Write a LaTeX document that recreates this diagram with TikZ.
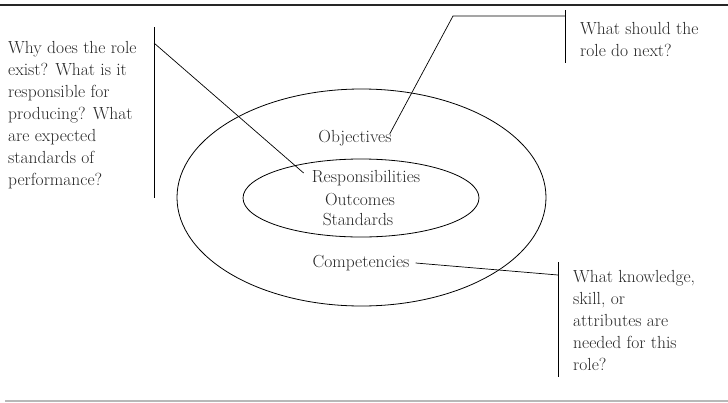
\documentclass[tikz,border=0pt]{standalone}
\usetikzlibrary{shapes.geometric}
\begin{document}
\begin{tikzpicture}[x=1pt,y=-1pt,
  ring/.style={draw,ellipse,line width=0.8pt,inner sep=0pt},
  word/.style={inner sep=0pt,text=black!85,font=\fontsize{17.5}{22}\selectfont},
  note/.style={inner sep=0pt,anchor=west,align=left,text=black!85,font=\fontsize{17.5}{22}\selectfont},
  wire/.style={line width=0.7pt},
  bar/.style={line width=0.9pt}]
\useasboundingbox (0,0) rectangle (728,402);
% page rules
\draw[line width=1.6pt,black!85] (0,5) -- (728,5);
\draw[line width=1.3pt,black!28] (5,401) -- (728,401);
% the two rings
\node[ring,minimum width=369,minimum height=217] (outer) at (361.5,197.5) {};
\node[ring,minimum width=236,minimum height=78] (inner) at (361,198) {};
% ring labels
\node[word] (obj) at (355,138) {Objectives};
\node[word] (resp) at (366,178) {Responsibilities};
\node[word] (outc) at (360,200) {Outcomes};
\node[word] (stan) at (358,220) {Standards};
\node[word] (comp) at (361,263) {Competencies};
% questions
\node[note] (qwhy) at (8,115) {Why does the role\\exist? What is it\\responsible for\\producing? What\\are expected\\standards of\\performance?};
\node[note] (qnext) at (580,39) {What should the\\role do next?};
\node[note] (qknow) at (573,320) {What knowledge,\\skill, or\\attributes are\\needed for this\\role?};
% bars beside the questions
\coordinate (lbtop) at (154,27);
\coordinate (lbbot) at (154,198);
\coordinate (lbjoin) at (154,43);
\coordinate (tbtop) at (565,10);
\coordinate (tbbot) at (565,63);
\coordinate (tbjoin) at (565,16);
\coordinate (tbcorner) at (453,16);
\coordinate (rbtop) at (558,262);
\coordinate (rbbot) at (558,377);
\coordinate (rbjoin) at (558,275);
\draw[bar] (lbtop) -- (lbbot);
\draw[bar] (tbtop) -- (tbbot);
\draw[bar] (rbtop) -- (rbbot);
% leaders
\draw[wire] (lbjoin) -- ([xshift=-8pt,yshift=5pt]resp.west);
\draw[wire] (tbjoin) -- (tbcorner) -- ([xshift=-2pt,yshift=-4pt]obj.north east);
\draw[wire] ([xshift=6pt]comp.east) -- (rbjoin);
\end{tikzpicture}
\end{document}
